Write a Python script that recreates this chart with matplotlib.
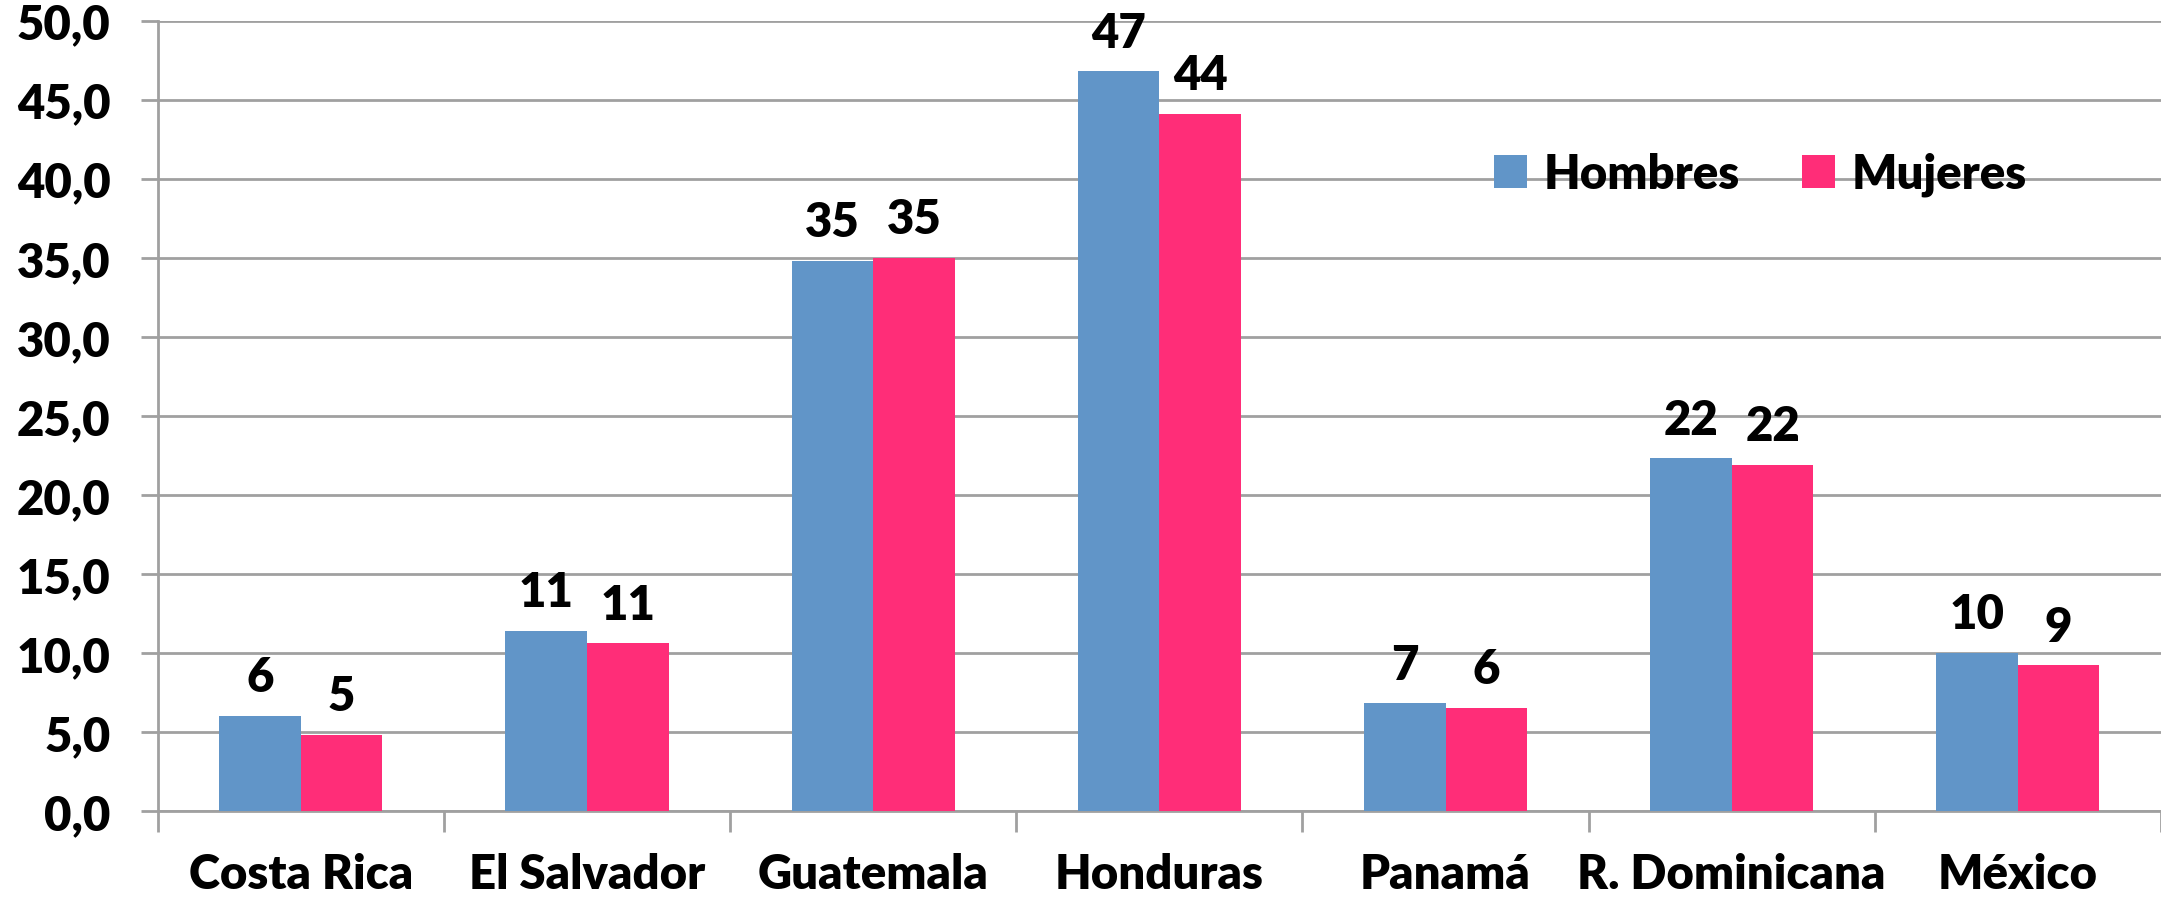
import numpy as np
import matplotlib.pyplot as plt
from matplotlib.ticker import FuncFormatter, FixedLocator

# data
paises = ['Costa Rica', 'El Salvador', 'Guatemala', 'Honduras', 'Panamá', 'R. Dominicana', 'México']
hombres = [6.0, 11.4, 34.8, 46.8, 6.8, 22.3, 10.0]
mujeres = [4.8, 10.6, 35.0, 44.1, 6.5, 21.9, 9.2]

plt.rcParams['font.family'] = ['Lato', 'DejaVu Sans']
plt.rcParams['font.weight'] = 'heavy'

azul = '#6195C8'
rosa = '#FF2D78'
gris = '#A0A0A0'
fs = 34

fig = plt.figure(figsize=(21.61, 9.04), dpi=100)
ax = fig.add_axes([0.073, 0.102, 0.927, 0.874])

x = np.arange(len(paises))
w = 0.285
b1 = ax.bar(x - w / 2, hombres, w, color=azul, label='Hombres', zorder=3)
b2 = ax.bar(x + w / 2, mujeres, w, color=rosa, label='Mujeres', zorder=3)

# value labels, rounded like the original
for bars, vals in ((b1, hombres), (b2, mujeres)):
    ax.bar_label(bars, labels=[f'{round(v):d}' for v in vals], padding=12,
                 fontsize=fs, fontweight='heavy')

ax.set_ylim(0, 50)
ax.set_xlim(-0.5, len(paises) - 0.5)
ax.set_yticks(np.arange(0, 51, 5))
ax.yaxis.set_major_formatter(FuncFormatter(lambda v, p: f'{v:.1f}'.replace('.', ',')))
ax.grid(axis='y', color=gris, linewidth=2, zorder=0)

ax.set_xticks(x)
ax.set_xticklabels(paises)
ax.xaxis.set_minor_locator(FixedLocator(np.arange(-0.5, len(paises), 1.0)))
ax.tick_params(axis='x', which='major', length=0, pad=30, labelsize=fs)
ax.tick_params(axis='x', which='minor', length=15, width=2, color=gris)
ax.tick_params(axis='y', length=12, width=2, color=gris, pad=22, labelsize=fs)

for s in ('top', 'right'):
    ax.spines[s].set_visible(False)
for s in ('left', 'bottom'):
    ax.spines[s].set_color(gris)
    ax.spines[s].set_linewidth(2)

ax.legend(loc='center', bbox_to_anchor=(0.8, 0.806), ncol=2, frameon=False,
          fontsize=fs, handlelength=0.7, handleheight=0.7, handletextpad=0.35,
          columnspacing=1.3)

fig.savefig('out.png', dpi=100)
